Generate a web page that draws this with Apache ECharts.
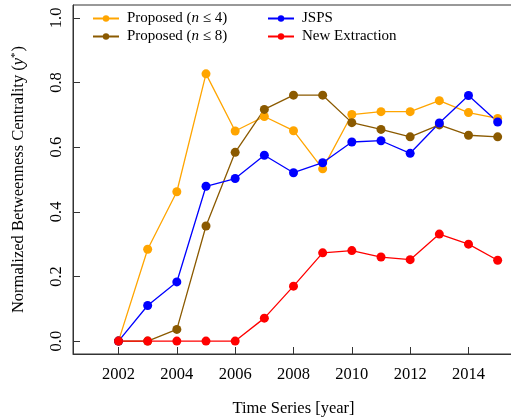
<!DOCTYPE html>
<html>
<head>
<meta charset="utf-8">
<script src="https://cdn.jsdelivr.net/npm/echarts@6/dist/echarts.min.js"></script>
<style>
  html, body { margin: 0; padding: 0; background: #ffffff; }
  #chart { width: 511px; height: 419px; }
</style>
</head>
<body>
<div id="chart"></div>
<script>
// Years on the horizontal axis
const years = [2002, 2003, 2004, 2005, 2006, 2007, 2008, 2009, 2010, 2011, 2012, 2013, 2014, 2015];

// Normalized betweenness centrality per method
const proposedN4 = [0, 0.284, 0.462, 0.827, 0.650, 0.695, 0.651, 0.533, 0.701, 0.710, 0.710, 0.744, 0.707, 0.689];
const proposedN8 = [0, 0, 0.036, 0.356, 0.584, 0.717, 0.761, 0.761, 0.676, 0.655, 0.632, 0.669, 0.637, 0.632];
const jsps       = [0, 0.110, 0.183, 0.479, 0.503, 0.575, 0.521, 0.552, 0.616, 0.620, 0.581, 0.675, 0.760, 0.678];
const newExtraction = [0, 0, 0, 0, 0, 0.071, 0.170, 0.273, 0.280, 0.260, 0.252, 0.331, 0.300, 0.250];

// Tick positions
const xTicks = [2002, 2004, 2006, 2008, 2010, 2012, 2014];
const yTicks = [0, 0.2, 0.4, 0.6, 0.8, 1.0];

const FONT = '"Liberation Serif", "DejaVu Serif", serif';
const AXIS_COLOR = '#333333';

const legendText = {
  p4: 'Proposed ({i|n} ≤ 4)',
  p8: 'Proposed ({i|n} ≤ 8)',
  jsps: 'JSPS',
  ext: 'New Extraction'
};

function pairs(values) {
  return years.map((y, i) => [y, values[i]]);
}

function lineSeries(id, color, values) {
  return {
    name: id,
    type: 'line',
    data: pairs(values),
    symbol: 'circle',
    symbolSize: 9,
    showSymbol: true,
    color: color,
    lineStyle: { color: color, width: 1.3 },
    itemStyle: { color: color },
    emphasis: { disabled: true },
    animation: false
  };
}

const legendTextStyle = {
  fontFamily: FONT,
  fontSize: 15,
  color: '#000',
  padding: [0, 0, 0, 3],
  rich: {
    i: { fontFamily: FONT, fontSize: 15, fontStyle: 'italic', color: '#000' }
  }
};

function legendColumn(ids, left) {
  return {
    data: ids,
    orient: 'vertical',
    left: left,
    top: 11,
    padding: 0,
    itemWidth: 26,
    itemHeight: 8,
    itemGap: 3,
    formatter: (n) => legendText[n],
    textStyle: legendTextStyle,
    selectedMode: false
  };
}

const chart = echarts.init(document.getElementById('chart'), null, { renderer: 'canvas' });

chart.setOption({
  backgroundColor: '#ffffff',
  animation: false,
  grid: {
    left: 73,
    top: 5,
    width: 441,
    height: 349,
    containLabel: false,
    outerBoundsMode: 'none',
    show: true,
    borderColor: AXIS_COLOR,
    borderWidth: 1,
    backgroundColor: 'transparent'
  },
  legend: [
    legendColumn(['p4', 'p8'], 92),
    legendColumn(['jsps', 'ext'], 267)
  ],
  xAxis: {
    type: 'value',
    min: 2000.44,
    max: 2015.56,
    name: 'Time Series [year]',
    nameLocation: 'middle',
    nameGap: 46,
    nameTextStyle: { fontFamily: FONT, fontSize: 16.5, color: '#000' },
    axisLine: { show: true, onZero: false, lineStyle: { color: AXIS_COLOR, width: 1 } },
    axisTick: { show: true, inside: true, length: 7, customValues: xTicks, lineStyle: { color: AXIS_COLOR } },
    axisLabel: {
      customValues: xTicks,
      margin: 12,
      fontFamily: FONT,
      fontSize: 16.5,
      color: '#000',
      formatter: (v) => String(v)
    },
    splitLine: { show: false }
  },
  yAxis: {
    type: 'value',
    min: -0.04,
    max: 1.04,
    name: 'Normalized Betweenness Centrality ({i|y}{s|*})',
    nameLocation: 'middle',
    nameGap: 46,
    nameRotate: 90,
    nameTextStyle: {
      fontFamily: FONT,
      fontSize: 16.5,
      color: '#000',
      rich: {
        i: { fontFamily: FONT, fontSize: 16.5, fontStyle: 'italic', color: '#000' },
        s: { fontFamily: FONT, fontSize: 11, color: '#000', verticalAlign: 'top', padding: [0, 1, 6, 0] }
      }
    },
    axisLine: { show: true, onZero: false, lineStyle: { color: AXIS_COLOR, width: 1 } },
    axisTick: { show: true, inside: true, length: 7, customValues: yTicks, lineStyle: { color: AXIS_COLOR } },
    axisLabel: {
      customValues: yTicks,
      rotate: 90,
      margin: 8,
      align: 'center',
      verticalAlign: 'bottom',
      fontFamily: FONT,
      fontSize: 16.5,
      color: '#000',
      formatter: (v) => v.toFixed(1)
    },
    splitLine: { show: false }
  },
  series: [
    lineSeries('p4', '#FFA500', proposedN4),
    lineSeries('p8', '#8B5A00', proposedN8),
    lineSeries('jsps', '#0000FF', jsps),
    lineSeries('ext', '#FF0000', newExtraction)
  ]
});
</script>
</body>
</html>
